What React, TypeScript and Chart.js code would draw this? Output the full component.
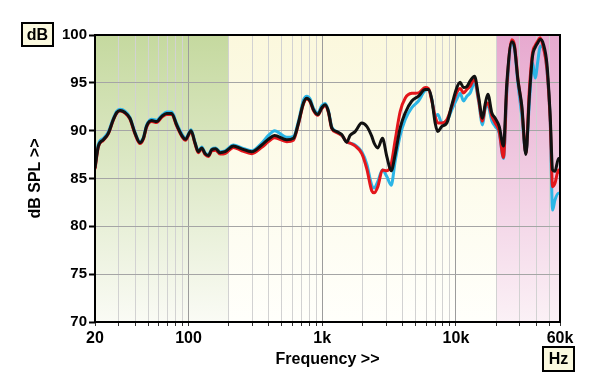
import React, { useEffect, useRef } from 'react';
import { Chart, registerables } from 'chart.js';

Chart.register(...registerables);

// Frequency points (Hz)
const freqHz = [
  20, 21.2, 23.1, 25.2, 27.4, 29.1, 30.8, 33.5, 36.5, 39.8,
  43.4, 46, 48.7, 53.1, 57.9, 63.1, 68.7, 74.9, 81.6, 90.1,
  95, 104.5, 112, 118.6, 125.6, 133.1, 140.9, 149.3, 159.9, 172.3,
  187.8, 216.8, 250.3, 297.2, 353.1, 396.1, 440, 543.3, 609.4, 664.2,
  724, 766.7, 812, 860, 926.8, 992.7, 1051, 1113, 1179, 1285,
  1401, 1527, 1617, 1762, 1977, 2155, 2349, 2446, 2606, 2822,
  3042, 3278, 3512, 3828, 4172, 4678, 5248, 5887, 6234, 6602,
  6992, 7322, 7845, 8550, 9320, 10158, 10760, 11396, 12068, 12780,
  13772, 14756, 15808, 16550, 17328, 18564, 19660, 21060, 22680, 24020,
  26200, 27440, 29040, 31120, 33340, 35400, 37400, 39140, 41000, 42680,
  45200, 47880, 50700, 52800, 55000, 58500, 60000,
];

// Black trace (dB SPL)
const blackDb = [
  86.1, 88.4, 89.05, 89.75, 91.15, 91.9, 92.1, 91.9, 91.3, 89.75,
  88.75, 89.2, 90.5, 91.05, 90.95, 91.5, 91.8, 91.8, 90.6, 89.4,
  89.1, 90.0, 88.7, 87.8, 88.2, 87.6, 87.4, 88.0, 88.1, 87.7,
  87.8, 88.4, 88.1, 87.8, 88.5, 89.1, 89.5, 89.05, 89.2, 90.8,
  92.9, 93.4, 93.1, 92.2, 91.7, 92.4, 92.7, 92.0, 90.3, 89.9,
  89.6, 88.8, 89.5, 89.9, 90.8, 90.45, 89.4, 88.7, 88.2, 89.2,
  87.3, 85.8, 87.5, 90.3, 91.85, 93.1, 93.6, 94.3, 94.3, 93.25,
  90.8, 89.9, 90.45, 90.8, 92.7, 94.5, 95.05, 94.5, 94.6, 95.2,
  95.7, 93.6, 91.3, 92.8, 93.8, 91.85, 91.3, 90.45, 88.4, 95.0,
  99.3, 98.7, 95.35, 92.55, 87.5, 93.6, 97.8, 98.7, 99.2, 99.55,
  99.0, 97.0, 91.5, 85.9, 85.75, 87.1, 87.1,
];

// Red trace (dB SPL)
const redDb = [
  86.0, 88.3, 89.0, 89.7, 91.1, 91.85, 92.05, 91.85, 91.2, 89.65,
  88.65, 89.1, 90.4, 90.95, 90.85, 91.4, 91.7, 91.7, 90.5, 89.3,
  89.0, 89.9, 88.6, 87.7, 88.1, 87.5, 87.3, 87.9, 87.95, 87.55,
  87.6, 88.25, 87.9, 87.6, 88.25, 88.85, 89.25, 88.85, 89.0, 90.7,
  92.8, 93.3, 93.0, 92.1, 91.6, 92.3, 92.6, 91.9, 90.2, 89.8,
  89.5, 88.8, 88.7, 88.4, 87.6, 86.0, 83.7, 83.5, 84.15, 85.9,
  85.8, 86.5, 89.0, 92.0, 93.4, 93.9, 93.95, 94.5, 94.4, 93.1,
  91.5, 90.8, 90.8, 91.15, 92.55, 94.0, 94.4, 93.95, 94.3, 94.65,
  95.4, 93.3, 91.0, 92.5, 92.9, 91.5, 90.8, 89.9, 87.2, 94.5,
  99.5, 98.9, 95.5, 92.2, 87.65, 94.3, 98.15, 98.9, 99.4, 99.7,
  98.6, 96.5, 91.0, 84.15, 84.5, 85.9, 85.55,
];

// Cyan trace (dB SPL)
const cyanDb = [
  86.3, 88.6, 89.2, 89.9, 91.3, 92.05, 92.25, 92.05, 91.4, 89.85,
  88.85, 89.3, 90.6, 91.2, 91.1, 91.6, 91.95, 91.95, 90.75, 89.55,
  89.2, 90.1, 88.8, 87.9, 88.3, 87.7, 87.5, 88.1, 88.2, 87.8,
  87.9, 88.5, 88.2, 87.9, 88.7, 89.5, 90.0, 89.3, 89.4, 91.0,
  93.2, 93.6, 93.3, 92.35, 91.85, 92.6, 92.85, 92.1, 90.4, 89.9,
  89.5, 88.8, 88.7, 88.5, 87.8, 86.5, 84.3, 84.0, 84.7, 85.9,
  85.2, 84.3, 86.8, 89.5, 91.15, 92.4, 93.1, 94.2, 94.3, 93.3,
  91.5, 91.7, 90.8, 91.0, 92.2, 93.3, 93.9, 93.1, 93.6, 93.95,
  95.0, 93.1, 90.6, 92.3, 92.6, 91.0, 90.45, 89.75, 87.1, 94.0,
  99.1, 98.5, 95.0, 91.5, 87.65, 92.9, 97.1, 95.5, 97.3, 98.85,
  98.6, 96.3, 91.0, 81.7, 82.75, 83.45, 83.45,
];

// Axis ticks
const xGridHz = [
  20, 30, 40, 50, 60, 70, 80, 90,
  100, 200, 300, 400, 500, 600, 700, 800, 900,
  1000, 2000, 3000, 4000, 5000, 6000, 7000, 8000, 9000,
  10000, 20000, 30000, 40000, 50000, 60000,
];
const xLabelHz = [20, 100, 1000, 10000, 60000];
const xLabelText = ['20', '100', '1k', '10k', '60k'];
const xDecadeHz = [100, 1000, 10000];
const yTicksDb = [70, 75, 80, 85, 90, 95, 100];

// Shaded frequency bands
const bandFromHz = [20, 200, 20000];
const bandToHz = [200, 20000, 60000];
const bandTopColor = ['#c5d99f', '#fbf8dd', '#e7a9cf'];
const bandBottomColor = ['#fafbf5', '#fffffb', '#fbf1f6'];

const FONT = "'Liberation Sans', Arial, Helvetica, sans-serif";

const bandsPlugin = {
  id: 'bands',
  beforeDraw(chart: any) {
    const { ctx, chartArea: a, scales } = chart;
    const x = scales.x;
    ctx.save();
    for (let i = 0; i < bandFromHz.length; i++) {
      const x0 = x.getPixelForValue(bandFromHz[i]);
      const x1 = x.getPixelForValue(bandToHz[i]);
      const g = ctx.createLinearGradient(0, a.top, 0, a.bottom);
      g.addColorStop(0, bandTopColor[i]);
      g.addColorStop(1, bandBottomColor[i]);
      ctx.fillStyle = g;
      ctx.fillRect(x0, a.top, x1 - x0, a.bottom - a.top);
    }
    ctx.restore();
  },
  afterDraw(chart: any) {
    const { ctx, chartArea: a } = chart;
    ctx.save();
    ctx.strokeStyle = '#000';
    ctx.lineWidth = 2;
    ctx.strokeRect(a.left, a.top, a.right - a.left, a.bottom - a.top);

    ctx.fillStyle = '#000';
    ctx.font = `bold 16px ${FONT}`;
    ctx.textAlign = 'center';
    ctx.textBaseline = 'middle';
    ctx.fillText('Frequency >>', (a.left + a.right) / 2, 360);

    ctx.save();
    ctx.translate(36, (a.top + a.bottom) / 2);
    ctx.rotate(-Math.PI / 2);
    ctx.fillText('dB SPL >>', 0, 0);
    ctx.restore();

    const box = (bx: number, by: number, bw: number, bh: number, t: string) => {
      ctx.fillStyle = '#fbf9df';
      ctx.fillRect(bx, by, bw, bh);
      ctx.strokeStyle = '#000';
      ctx.lineWidth = 2;
      ctx.strokeRect(bx, by, bw, bh);
      ctx.fillStyle = '#000';
      ctx.fillText(t, bx + bw / 2, by + bh / 2 + 1);
    };
    box(22, 23, 31, 23, 'dB');
    box(543, 347, 31, 24, 'Hz');
    ctx.restore();
  },
};

export default function App() {
  const ref = useRef<HTMLCanvasElement | null>(null);

  useEffect(() => {
    if (!ref.current) return;
    const mk = (vals: number[]) => freqHz.map((f, i) => ({ x: f, y: vals[i] }));
    const chart = new Chart(ref.current, {
      type: 'line',
      data: {
        datasets: [
          { label: 'black', data: mk(blackDb), borderColor: '#111111', borderWidth: 3 },
          { label: 'red', data: mk(redDb), borderColor: '#e3161b', borderWidth: 3 },
          { label: 'cyan', data: mk(cyanDb), borderColor: '#2bb5e6', borderWidth: 3 },
        ].map((d) => ({ ...d, pointRadius: 0, fill: false, cubicInterpolationMode: 'monotone' as const })),
      },
      options: {
        animation: false,
        responsive: false,
        events: [],
        layout: { padding: { top: 35, right: 40, bottom: 0, left: 0 } },
        plugins: { legend: { display: false }, tooltip: { enabled: false } },
        scales: {
          x: {
            type: 'logarithmic',
            min: 20,
            max: 60000,
            afterBuildTicks: (s: any) => {
              s.ticks = xGridHz.map((v) => ({ value: v }));
            },
            afterFit: (s: any) => {
              s.height = 67;
            },
            border: { display: false },
            grid: {
              color: (c: any) => (xDecadeHz.includes(c.tick?.value) ? '#9c9c9c' : '#d2d2d2'),
              tickColor: '#333',
              tickLength: 4,
              lineWidth: 1,
            },
            ticks: {
              autoSkip: false,
              maxRotation: 0,
              minRotation: 0,
              padding: 3,
              color: '#000',
              font: { family: FONT, size: 16, weight: 'bold' },
              callback: (v: any) => {
                const i = xLabelHz.indexOf(Number(v));
                return i >= 0 ? xLabelText[i] : '';
              },
            },
          },
          y: {
            min: 70,
            max: 100,
            afterBuildTicks: (s: any) => {
              s.ticks = yTicksDb.map((v) => ({ value: v }));
            },
            afterFit: (s: any) => {
              s.width = 95;
            },
            border: { display: false },
            grid: {
              color: '#a5a5a5',
              tickColor: '#000',
              tickLength: 6,
              tickWidth: 2,
              lineWidth: 1,
            },
            ticks: {
              padding: 2,
              color: '#000',
              font: { family: FONT, size: 15, weight: 'bold' },
              callback: (v: any) => String(v),
            },
          },
        },
      },
      plugins: [bandsPlugin],
    } as any);
    return () => chart.destroy();
  }, []);

  return (
    <div style={{ position: 'absolute', left: 0, top: 0, width: 600, height: 389, background: '#fff' }}>
      <canvas ref={ref} width={600} height={389} style={{ display: 'block' }} />
    </div>
  );
}
